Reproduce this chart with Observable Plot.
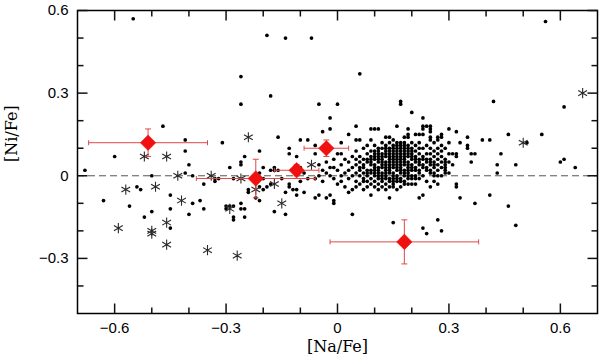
<!DOCTYPE html>
<html>
<head>
<meta charset="utf-8">
<script src="https://cdn.jsdelivr.net/npm/d3@7"></script>
<script src="https://cdn.jsdelivr.net/npm/@observablehq/plot@0.6"></script>
<style>
  html, body { margin: 0; padding: 0; background: #fff; }
  #chart svg { display: block; }
</style>
</head>
<body>
<div id="chart"></div>
<script>
// ---- Data ----
// Field stars: columns of [Na/Fe] value with the [Ni/Fe] values at that abscissa
const dotColumns = [
  [-0.68, [0.02]],
  [-0.63, [-0.09]],
  [-0.60, [0.07]],
  [-0.56, [-0.11]],
  [-0.55, [0.57]],
  [-0.54, [-0.04]],
  [-0.53, [-0.05]],
  [-0.52, [-0.15]],
  [-0.50, [0.00, -0.13]],
  [-0.47, [0.18]],
  [-0.45, [-0.07, -0.12, -0.19]],
  [-0.41, [0.13, 0.09, 0.01]],
  [-0.40, [0.04, -0.14]],
  [-0.39, [0.00, -0.10]],
  [-0.37, [-0.09]],
  [-0.36, [-0.03, -0.12]],
  [-0.33, [-0.01, -0.02]],
  [-0.32, [-0.01]],
  [-0.31, [0.12]],
  [-0.30, [-0.11, -0.12]],
  [-0.29, [0.03, -0.11]],
  [-0.28, [-0.01, -0.11, -0.15, -0.16]],
  [-0.26, [0.36, 0.26, 0.05, 0.04, -0.10, -0.12]],
  [-0.25, [0.07, -0.12, -0.15]],
  [-0.24, [-0.05, -0.06]],
  [-0.22, [-0.08]],
  [-0.21, [0.09, 0.01, -0.04, -0.09]],
  [-0.20, [0.03, -0.01, -0.05]],
  [-0.19, [0.51, -0.04]],
  [-0.18, [0.29, 0.02, -0.03]],
  [-0.17, [0.03, 0.02, -0.13]],
  [-0.16, [0.14, 0.02]],
  [-0.15, [-0.01]],
  [-0.14, [0.50, -0.06, -0.14]],
  [-0.13, [0.10, 0.08, -0.03, -0.04]],
  [-0.12, [0.02, -0.05]],
  [-0.11, [0.07, -0.05, -0.07]],
  [-0.10, [0.13, 0.03, -0.02]],
  [-0.09, [0.01, -0.06]],
  [-0.08, [0.13, -0.01]],
  [-0.07, [0.50]],
  [-0.06, [0.11, 0.08, -0.01, -0.08]],
  [-0.05, [0.26, 0.04, 0.00, -0.07]],
  [-0.04, [0.16, 0.02, -0.02]],
  [-0.03, [0.05, 0.01, -0.08]],
  [-0.02, [0.21, 0.17, 0.03, 0.00, -0.07]],
  [-0.01, [0.06, 0.03, -0.01, -0.09, -0.10]],
  [0.00, [0.26, 0.08, 0.02, -0.03]],
  [0.01, [0.12, 0.08, 0.04, 0.00, -0.02]],
  [0.02, [0.06, 0.01, -0.04]],
  [0.03, [0.15, 0.05, 0.02, -0.01, -0.06]],
  [0.04, [0.07, 0.03, 0.00, -0.05, -0.14]],
  [0.05, [0.18, 0.13, 0.09, 0.06, 0.04, 0.01, -0.02, -0.04]],
  [0.06, [0.37, 0.13, 0.07, 0.05, 0.03, 0.02, 0.00, -0.03]],
  [0.07, [0.10, 0.06, 0.04, 0.03, 0.01, -0.01, -0.02, -0.05]],
  [0.08, [0.11, 0.08, 0.06, 0.05, 0.02, 0.01, 0.00, -0.02, -0.04]],
  [0.09, [0.17, 0.13, 0.09, 0.07, 0.06, 0.05, 0.04, 0.02, 0.01, -0.01, -0.03, -0.07]],
  [0.10, [0.17, 0.11, 0.09, 0.08, 0.07, 0.06, 0.04, 0.03, 0.02, 0.01, 0.00, -0.02, -0.04]],
  [0.11, [0.17, 0.10, 0.09, 0.08, 0.07, 0.06, 0.05, 0.03, 0.02, 0.01, 0.00, -0.01, -0.03, -0.05]],
  [0.12, [0.12, 0.10, 0.08, 0.07, 0.06, 0.05, 0.04, 0.03, 0.01, 0.00, -0.01, -0.02, -0.04]],
  [0.13, [0.14, 0.11, 0.10, 0.09, 0.08, 0.07, 0.05, 0.04, 0.03, 0.02, 0.01, 0.00, -0.01, -0.03, -0.05]],
  [0.14, [0.14, 0.12, 0.10, 0.09, 0.08, 0.07, 0.06, 0.05, 0.04, 0.03, 0.02, 0.01, -0.01, -0.02, -0.04, -0.08]],
  [0.15, [0.13, 0.11, 0.10, 0.09, 0.08, 0.07, 0.06, 0.05, 0.04, 0.03, 0.01, 0.00, -0.01, -0.02, -0.03, -0.04, -0.17]],
  [0.16, [0.18, 0.12, 0.11, 0.10, 0.09, 0.08, 0.07, 0.06, 0.05, 0.04, 0.03, 0.02, 0.00, -0.01, -0.02, -0.05]],
  [0.17, [0.27, 0.26, 0.12, 0.11, 0.10, 0.09, 0.08, 0.07, 0.06, 0.05, 0.04, 0.03, 0.02, 0.01, -0.01, -0.02, -0.04]],
  [0.18, [0.14, 0.12, 0.11, 0.10, 0.09, 0.08, 0.07, 0.06, 0.05, 0.04, 0.02, 0.01, 0.00, -0.02, -0.03]],
  [0.19, [0.17, 0.15, 0.14, 0.11, 0.10, 0.09, 0.08, 0.07, 0.05, 0.04, 0.03, 0.02, 0.01, 0.00, -0.01, -0.03]],
  [0.20, [0.23, 0.12, 0.10, 0.09, 0.08, 0.07, 0.06, 0.04, 0.03, 0.02, 0.00, -0.01, -0.03]],
  [0.21, [0.15, 0.11, 0.09, 0.07, 0.06, 0.05, 0.03, 0.02, 0.00, -0.01, -0.03]],
  [0.22, [0.15, 0.12, 0.10, 0.08, 0.06, 0.05, 0.04, 0.02, 0.01, -0.01, -0.08]],
  [0.23, [0.21, 0.18, 0.17, 0.15, 0.10, 0.07, 0.06, 0.04, 0.03, 0.00, -0.07, -0.19]],
  [0.24, [0.18, 0.11, 0.08, 0.06, 0.05, 0.03, 0.02, -0.02, -0.21]],
  [0.25, [0.18, 0.17, 0.16, 0.14, 0.13, 0.10, 0.08, 0.06, 0.05, 0.04, 0.02, 0.01, -0.04]],
  [0.26, [0.12, 0.09, 0.07, 0.05, 0.04, 0.03, 0.01, 0.00, -0.02]],
  [0.27, [0.14, 0.13, 0.10, 0.08, 0.06, 0.04, 0.02, 0.00, -0.03, -0.16]],
  [0.28, [0.15, 0.14, 0.11, 0.09, 0.07, 0.05, 0.03, 0.00, -0.20]],
  [0.29, [0.10, 0.06, 0.05, 0.04, 0.03, 0.02, 0.01]],
  [0.30, [0.17, 0.12, 0.08, 0.05, 0.01]],
  [0.31, [0.08, 0.04]],
  [0.32, [0.16, 0.08, 0.07, -0.03, -0.04]],
  [0.33, [0.12, -0.08]],
  [0.35, [0.14, 0.11, 0.10]],
  [0.36, [0.08, 0.05]],
  [0.37, [0.08, -0.10]],
  [0.39, [0.13]],
  [0.41, [0.13, -0.07]],
  [0.42, [0.27]],
  [0.43, [0.04, 0.01]],
  [0.44, [0.08]],
  [0.46, [0.15, -0.11]],
  [0.48, [0.04, -0.18]],
  [0.51, [0.12]],
  [0.55, [0.15]],
  [0.56, [0.56]],
  [0.60, [0.05]],
  [0.61, [0.25, 0.06]],
  [0.64, [0.03]]
];

// Asterisk-marked stars
const starX = [-0.57, -0.52, -0.46, -0.49, -0.43, -0.42, -0.59, -0.50, -0.50, -0.46, -0.46, -0.35, -0.27, -0.34, -0.29, -0.26, -0.24, -0.22, -0.17, -0.15, -0.07, 0.50, 0.66];
const starY = [-0.05, 0.07, 0.07, -0.04, 0.00, -0.09, -0.19, -0.20, -0.21, -0.17, -0.25, -0.27, -0.29, 0.00, -0.12, -0.01, 0.14, -0.05, -0.03, -0.10, 0.04, 0.12, 0.30];

// Red diamonds with error bars
const meanX = [-0.51, -0.22, -0.11, -0.03, 0.18];
const meanY = [0.12, -0.01, 0.02, 0.10, -0.24];
const errX  = [0.16, 0.16, 0.06, 0.06, 0.20];
const errY  = [0.05, 0.07, 0.02, 0.03, 0.08];

// Axes
const xDomain = [-0.7, 0.7];
const yDomain = [-0.5, 0.6];
const xMajor = [-0.6, -0.3, 0, 0.3, 0.6];
const xMinor = [-0.5, -0.4, -0.2, -0.1, 0.1, 0.2, 0.4, 0.5];
const yMajor = [-0.3, 0, 0.3, 0.6];
const yMinor = [-0.4, -0.2, -0.1, 0.1, 0.2, 0.4, 0.5];
const xLabel = "[Na/Fe]";
const yLabel = "[Ni/Fe]";

// ---- Build tables ----
const dots = dotColumns.flatMap(([x, ys]) => ys.map(y => ({x, y})));
const stars = starX.map((x, i) => ({x, y: starY[i]}));
const means = meanX.map((x, i) => ({x, y: meanY[i], ex: errX[i], ey: errY[i]}));

const W = 600, H = 359, mL = 77, mR = 3, mT = 10, mB = 46;
const fw = W - mL - mR, fh = H - mT - mB;
// pixel lengths converted into data units (for inward tick marks)
const pxY = (yDomain[1] - yDomain[0]) / fh;
const pxX = (xDomain[1] - xDomain[0]) / fw;

// inward tick segments on all four sides, derived from the tick values
const tickSegs = [];
for (const [vals, len] of [[xMajor, 10], [xMinor, 6]]) {
  for (const v of vals) {
    tickSegs.push({x1: v, x2: v, y1: yDomain[0], y2: yDomain[0] + len * pxY});
    tickSegs.push({x1: v, x2: v, y1: yDomain[1], y2: yDomain[1] - len * pxY});
  }
}
for (const [vals, len] of [[yMajor, 10], [yMinor, 6]]) {
  for (const v of vals) {
    tickSegs.push({y1: v, y2: v, x1: xDomain[0], x2: xDomain[0] + len * pxX});
    tickSegs.push({y1: v, y2: v, x1: xDomain[1], x2: xDomain[1] - len * pxX});
  }
}

// symbol: a centred vertical segment of half-length r
const capSym = { draw(ctx, size) { const l = Math.sqrt(size / Math.PI); ctx.moveTo(0, -l); ctx.lineTo(0, l); } };

const red = "#f01010";
const barRed = "#e04848";
const ink = "#111111";
const sans = "'Liberation Sans', Arial, sans-serif";
const serif = "'DejaVu Serif', serif";

const fmt = d => d === 0 ? "0" : d3.format(".1f")(d);

const chart = Plot.plot({
  width: W,
  height: H,
  marginLeft: mL,
  marginRight: mR,
  marginTop: mT,
  marginBottom: mB,
  x: {domain: xDomain, label: null, axis: null},
  y: {domain: yDomain, label: null, axis: null},
  marks: [
    Plot.ruleY([0], {stroke: "#555", strokeWidth: 1, strokeDasharray: "7,4"}),
    Plot.dot(dots, {x: "x", y: "y", r: 1.85, fill: "black"}),
    Plot.dot(stars, {x: "x", y: "y", symbol: "asterisk", r: 4.8, stroke: "#2a2a2a", strokeWidth: 1.1, fill: "none"}),
    // error bars
    Plot.link(means, {x1: d => d.x - d.ex, x2: d => d.x + d.ex, y1: "y", y2: "y", stroke: barRed, strokeWidth: 1}),
    Plot.link(means, {x1: "x", x2: "x", y1: d => d.y - d.ey, y2: d => d.y + d.ey, stroke: barRed, strokeWidth: 1}),
    Plot.dot(means, {x: d => d.x - d.ex, y: "y", symbol: capSym, r: 2.5, stroke: barRed, strokeWidth: 1, fill: "none"}),
    Plot.dot(means, {x: d => d.x + d.ex, y: "y", symbol: capSym, r: 2.5, stroke: barRed, strokeWidth: 1, fill: "none"}),
    Plot.dot(means, {x: "x", y: d => d.y - d.ey, symbol: capSym, r: 3, rotate: 90, stroke: barRed, strokeWidth: 1, fill: "none"}),
    Plot.dot(means, {x: "x", y: d => d.y + d.ey, symbol: capSym, r: 3, rotate: 90, stroke: barRed, strokeWidth: 1, fill: "none"}),
    Plot.dot(means, {x: "x", y: "y", symbol: "diamond2", r: 7, fill: red, stroke: red, strokeWidth: 0.5}),
    // frame and inward ticks
    Plot.frame({stroke: "black", strokeWidth: 1.5}),
    Plot.link(tickSegs, {x1: "x1", x2: "x2", y1: "y1", y2: "y2", stroke: ink, strokeWidth: 1.5}),
    // tick labels
    Plot.text(xMajor, {x: d => d, text: fmt, frameAnchor: "bottom", lineAnchor: "top", dy: 9, fontFamily: sans, fontSize: 15, fill: "black"}),
    Plot.text(yMajor, {y: d => d, text: fmt, frameAnchor: "left", textAnchor: "end", dx: -9, fontFamily: sans, fontSize: 15, fill: "black"}),
    // axis titles
    Plot.text([xLabel], {text: d => d, frameAnchor: "bottom", dy: 38, fontFamily: serif, fontSize: 16, fill: "black"}),
    Plot.text([yLabel], {text: d => d, frameAnchor: "left", dx: -66, rotate: -90, fontFamily: serif, fontSize: 16, fill: "black"})
  ]
});
document.getElementById("chart").appendChild(chart);
</script>
</body>
</html>
